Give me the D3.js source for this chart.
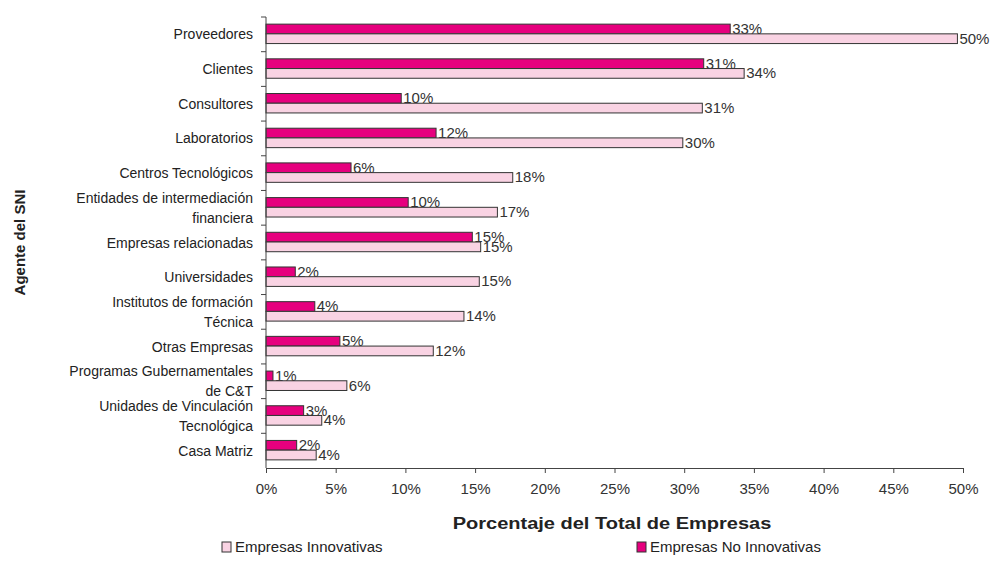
<!DOCTYPE html>
<html>
<head>
<meta charset="utf-8">
<script src="https://cdn.jsdelivr.net/npm/d3@7.9.0/dist/d3.min.js"></script>
<style>
  body { margin: 0; background: #fff; }
  svg { font-family: "Liberation Sans", Arial, sans-serif; }
</style>
</head>
<body>
<svg width="995" height="583"></svg>
<script>
// categories, top to bottom (\n = line break in label)
const categories = [
  "Proveedores",
  "Clientes",
  "Consultores",
  "Laboratorios",
  "Centros Tecnológicos",
  "Entidades de intermediación\nfinanciera",
  "Empresas relacionadas",
  "Universidades",
  "Institutos de formación\nTécnica",
  "Otras Empresas",
  "Programas Gubernamentales\nde C&T",
  "Unidades de Vinculación\nTecnológica",
  "Casa Matriz"
];
const noInnovativas = [33.3, 31.4, 9.7, 12.2, 6.1, 10.2, 14.8, 2.1, 3.5, 5.3, 0.5, 2.7, 2.2];
const innovativas   = [49.6, 34.3, 31.3, 29.9, 17.7, 16.6, 15.4, 15.3, 14.2, 12.0, 5.8, 4.0, 3.6];
const xTicks = [0, 5, 10, 15, 20, 25, 30, 35, 40, 45, 50];

const svg = d3.select("svg");
const plotLeft = 266, plotRight = 963, plotTop = 17, plotBottom = 468;

let x = d3.scaleLinear().domain([0, 50]).range([plotLeft, plotRight]);
let y = d3.scaleBand().domain(categories).range([plotTop, plotBottom]);
const barH = y.bandwidth() * 0.28;

// bars
categories.forEach((c, i) => {
  let y0 = y(c) + y.bandwidth() / 2 - barH - 0.5;
  let rows = [
    { v: noInnovativas[i], fill: "#E6007E", yy: y0 },
    { v: innovativas[i], fill: "#F9D3E3", yy: y0 + barH }
  ];
  rows.forEach(r => {
    svg.append("rect")
      .attr("x", x(0))
      .attr("y", r.yy)
      .attr("width", x(r.v) - x(0))
      .attr("height", barH)
      .attr("fill", r.fill)
      .attr("stroke", "#333")
      .attr("stroke-width", 1);
    svg.append("text")
      .attr("x", x(r.v) + 2)
      .attr("y", r.yy + barH / 2 - 0.5)
      .attr("dy", "0.36em")
      .attr("font-size", 15)
      .attr("fill", "#333")
      .text(Math.round(r.v) + "%");
  });
});

// x axis
let xAxis = d3.axisBottom(x)
  .tickValues(xTicks)
  .tickFormat(d => d + "%")
  .tickSize(5)
  .tickSizeOuter(0);
let gx = svg.append("g")
  .attr("transform", `translate(0,${plotBottom})`)
  .call(xAxis);
gx.select(".domain").attr("stroke", "#444");
gx.selectAll(".tick line").attr("stroke", "#444");
gx.selectAll(".tick text")
  .attr("font-size", 15)
  .attr("fill", "#333")
  .attr("font-family", "Liberation Sans, Arial, sans-serif")
  .attr("y", 12)
  .attr("dy", "0.9em");

// y axis line + ticks at band edges
svg.append("line")
  .attr("x1", plotLeft).attr("x2", plotLeft)
  .attr("y1", plotTop).attr("y2", plotBottom)
  .attr("stroke", "#444");
categories.forEach(c => {
  svg.append("line")
    .attr("x1", plotLeft - 5).attr("x2", plotLeft)
    .attr("y1", y(c)).attr("y2", y(c))
    .attr("stroke", "#444");
});

// category labels
categories.forEach(c => {
  let lines = c.split("\n");
  let cy = y(c) + y.bandwidth() / 2;
  let t = svg.append("text")
    .attr("text-anchor", "end")
    .attr("font-size", 14)
    .attr("fill", "#222");
  lines.forEach((ln, k) => {
    t.append("tspan")
      .attr("x", 253)
      .attr("y", cy + (k - (lines.length - 1) / 2) * 20)
      .attr("dy", "0.36em")
      .text(ln);
  });
});

// axis titles
svg.append("text")
  .attr("transform", "translate(612,529) scale(1.25,1)")
  .attr("text-anchor", "middle")
  .attr("font-size", 16)
  .attr("font-weight", "bold")
  .attr("fill", "#222")
  .text("Porcentaje del Total de Empresas");

svg.append("text")
  .attr("transform", `translate(25,${(plotTop + plotBottom) / 2}) rotate(-90)`)
  .attr("text-anchor", "middle")
  .attr("font-size", 15)
  .attr("font-weight", "bold")
  .attr("fill", "#222")
  .text("Agente del SNI");

// legend
const legendItems = [
  { label: "Empresas Innovativas", fill: "#F9D3E3", x: 222 },
  { label: "Empresas No Innovativas", fill: "#E6007E", x: 637 }
];
legendItems.forEach(d => {
  svg.append("rect")
    .attr("x", d.x).attr("y", 542)
    .attr("width", 9).attr("height", 10)
    .attr("fill", d.fill)
    .attr("stroke", "#333");
  svg.append("text")
    .attr("x", d.x + 13).attr("y", 547)
    .attr("dy", "0.36em")
    .attr("font-size", 15)
    .attr("fill", "#222")
    .text(d.label);
});
</script>
</body>
</html>
